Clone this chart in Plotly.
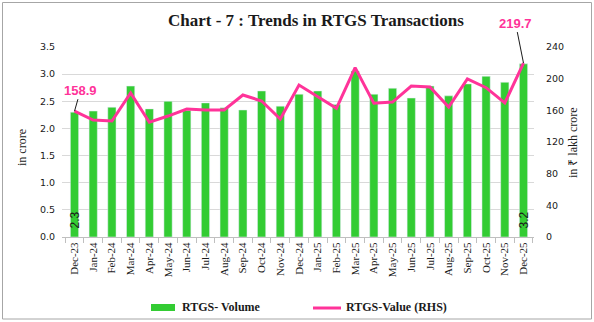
import plotly.graph_objects as go

months = ["Dec-23", "Jan-24", "Feb-24", "Mar-24", "Apr-24", "May-24", "Jun-24", "Jul-24",
          "Aug-24", "Sep-24", "Oct-24", "Nov-24", "Dec-24", "Jan-25", "Feb-25", "Mar-25",
          "Apr-25", "May-25", "Jun-25", "Jul-25", "Aug-25", "Sep-25", "Oct-25", "Nov-25", "Dec-25"]
volume = [2.30, 2.32, 2.39, 2.78, 2.36, 2.50, 2.33, 2.47, 2.38, 2.34, 2.69, 2.41, 2.63,
          2.69, 2.44, 3.06, 2.63, 2.74, 2.56, 2.78, 2.60, 2.82, 2.96, 2.85, 3.19]
value = [158.9, 147.8, 146.5, 181.9, 145.0, 152.8, 161.7, 160.4, 160.4, 179.4, 171.8, 149.0, 192.0,
         177.0, 162.5, 213.9, 168.9, 170.5, 190.7, 189.5, 164.2, 199.6, 188.6, 169.3, 219.7]
left_ticks = [0, 0.5, 1.0, 1.5, 2.0, 2.5, 3.0, 3.5]
right_ticks = [0, 40, 80, 120, 160, 200, 240]

GREEN = "#33CC33"
PINK = "#FF3399"
W, H = 594, 322
L, R, T, B = 62, 60, 47, 85
PW, PH = W - L - R, H - T - B


def px(xp):
    return (xp - L) / PW


def py(yp):
    return (H - B - yp) / PH


fig = go.Figure()
fig.add_trace(go.Bar(x=months, y=volume, name="RTGS- Volume", marker_color=GREEN,
                     showlegend=False, yaxis="y"))
fig.add_trace(go.Scatter(x=months, y=value, name="RTGS-Value (RHS)", mode="lines",
                         line=dict(color=PINK, width=3), showlegend=False, yaxis="y2"))

ann = []
# title
ann.append(dict(text="<b>Chart - 7 : Trends in RTGS Transactions</b>", xref="paper", yref="paper",
                x=px(316), y=py(20), xanchor="center", yanchor="middle", showarrow=False,
                font=dict(family="Liberation Serif", size=17, color="#1a1a1a")))
# axis titles
ann.append(dict(text="in crore", xref="paper", yref="paper", x=px(22), y=py(148), textangle=-90,
                xanchor="center", yanchor="middle", showarrow=False,
                font=dict(family="Liberation Serif", size=12, color="#1a1a1a")))
ann.append(dict(text="in ₹ lakh crore", xref="paper", yref="paper", x=px(573), y=py(143), textangle=-90,
                xanchor="center", yanchor="middle", showarrow=False,
                font=dict(family="Liberation Serif", size=12, color="#1a1a1a")))
# value labels with leader lines
ann.append(dict(text="<b>%.1f</b>" % value[0], x=months[0], y=value[0], xref="x", yref="y2",
                showarrow=True, arrowhead=0, arrowwidth=1, arrowcolor="#1a1a1a", ax=6, ay=-21,
                standoff=0, font=dict(family="Liberation Sans", size=13, color=PINK)))
ann.append(dict(text="<b>%.1f</b>" % value[-1], x=months[-1], y=value[-1], xref="x", yref="y2",
                showarrow=True, arrowhead=0, arrowwidth=1, arrowcolor="#1a1a1a", ax=-8, ay=-40,
                standoff=0, font=dict(family="Liberation Sans", size=13, color=PINK)))
# volume labels inside bars
for i in (0, len(months) - 1):
    ann.append(dict(text="%.1f" % volume[i], x=months[i], y=0, xref="x", yref="y",
                    xanchor="center", yanchor="middle",
                    yshift=17, textangle=-90, showarrow=False,
                    font=dict(family="Liberation Sans", size=12, color="#1a1a1a")))
# manual legend
ann.append(dict(text="<b>RTGS- Volume</b>", xref="paper", yref="paper", x=px(180), y=py(307),
                xanchor="left", yanchor="middle", showarrow=False,
                font=dict(family="Liberation Serif", size=12, color="#1a1a1a")))
ann.append(dict(text="<b>RTGS-Value (RHS)</b>", xref="paper", yref="paper", x=px(344), y=py(307),
                xanchor="left", yanchor="middle", showarrow=False,
                font=dict(family="Liberation Serif", size=12, color="#1a1a1a")))

shapes = [
    dict(type="rect", xref="paper", yref="paper", x0=px(151), x1=px(175), y0=py(311), y1=py(304),
         fillcolor=GREEN, line=dict(width=0)),
    dict(type="line", xref="paper", yref="paper", x0=px(313), x1=px(341), y0=py(308), y1=py(308),
         line=dict(color=PINK, width=3)),
    dict(type="rect", xref="paper", yref="paper", x0=px(2.5), x1=px(591.5), y0=py(319), y1=py(2.5),
         line=dict(color="#A6A6A6", width=1), fillcolor="rgba(0,0,0,0)", layer="above"),
]

fig.update_layout(
    width=W, height=H, margin=dict(l=L, r=R, t=T, b=B, pad=0),
    paper_bgcolor="white", plot_bgcolor="white",
    bargap=0.56, showlegend=False,
    annotations=ann, shapes=shapes,
    xaxis=dict(type="category", tickangle=-90, showgrid=False, showline=True, linecolor="#BFBFBF",
               ticks="outside", tickson="boundaries", ticklen=5, tickcolor="#BFBFBF",
               tickfont=dict(family="Liberation Serif", size=11, color="#1a1a1a")),
    yaxis=dict(range=[0, 3.5], tickvals=left_ticks, ticktext=["%.1f" % v for v in left_ticks],
               showgrid=True, gridcolor="#D9D9D9", gridwidth=1, zeroline=False, showline=False,
               ticks="", ticklabelstandoff=6,
               tickfont=dict(family="DejaVu Sans", size=9.5, color="#1a1a1a")),
    yaxis2=dict(range=[0, 240], tickvals=right_ticks, overlaying="y", side="right",
                showgrid=False, zeroline=False, showline=False, ticks="", ticklabelstandoff=11,
                tickfont=dict(family="DejaVu Sans", size=9.5, color="#1a1a1a")),
)

fig.write_html("out.html")
